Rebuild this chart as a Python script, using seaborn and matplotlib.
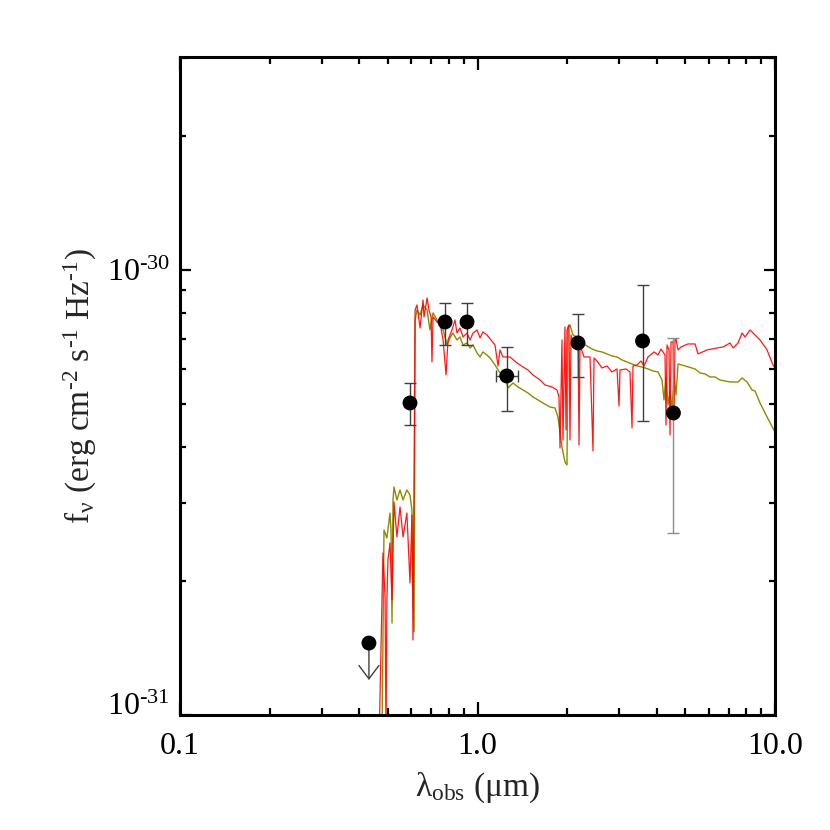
import numpy as np
import seaborn as sb
import matplotlib
matplotlib.use("Agg")
import matplotlib.pyplot as plt
from matplotlib.ticker import FixedLocator, FixedFormatter, LogLocator, NullFormatter

# ### data ###
# spectrum 1 (red), wavelength in micron, flux in 1e-31 erg/cm2/s/Hz
red_lam = [0.467, 0.481, 0.489, 0.4925, 0.496, 0.500, 0.508, 0.516, 0.524, 0.536,
           0.549, 0.562, 0.579, 0.593, 0.602, 0.607, 0.617, 0.626, 0.641, 0.656,
           0.661, 0.677, 0.687, 0.698, 0.703, 0.709, 0.731, 0.748, 0.766, 0.784,
           0.796, 0.821, 0.840, 0.853, 0.873, 0.894, 0.922, 0.944, 0.966, 0.996,
           1.020, 1.043, 1.076, 1.110, 1.145, 1.172, 1.190, 1.218, 1.286, 1.357,
           1.422, 1.478, 1.536, 1.622, 1.686, 1.780, 1.850, 1.879, 1.894, 1.923,
           1.938, 1.968, 1.984, 1.999, 2.030, 2.046, 2.062, 2.110, 2.177, 2.194,
           2.211, 2.280, 2.389, 2.445, 2.464, 2.522, 2.621, 2.725, 2.832, 2.944,
           2.990, 3.013, 3.157, 3.256, 3.307, 3.332, 3.437, 3.545, 3.629, 3.743,
           3.921, 4.044, 4.139, 4.269, 4.302, 4.336, 4.403, 4.438, 4.472, 4.542,
           4.577, 4.613, 4.648, 4.721, 4.832, 5.101, 5.385, 5.512, 5.910, 6.385,
           6.689, 7.061, 7.227, 7.513, 7.749, 7.931, 8.244, 8.437, 8.907, 9.403,
           9.846, 10.0]
red_flux = [0.879, 2.312, 1.842, 0.879, 1.813, 2.230, 2.435, 1.813, 3.011, 2.512,
            2.934, 2.512, 2.844, 1.980, 2.815, 1.474, 8.131, 8.344, 7.408, 8.562,
            7.842, 8.651, 8.131, 7.842, 6.213, 7.842, 7.641, 7.602, 6.962, 5.809,
            6.962, 7.332, 7.721, 7.219, 7.408, 7.071, 7.219, 6.962, 7.219, 7.332,
            7.035, 7.256, 7.145, 6.962, 6.784, 6.086, 6.611, 6.376, 6.376, 6.181,
            6.054, 5.961, 5.809, 5.660, 5.516, 5.459, 5.375, 5.184, 3.981, 6.962,
            4.149, 7.447, 4.370, 7.332, 7.524, 4.149, 7.145, 6.714, 6.962, 4.043,
            6.784, 6.376, 6.376, 3.920, 6.343, 6.245, 6.023, 6.086, 5.900, 5.992,
            4.948, 5.961, 5.992, 5.900, 4.415, 6.086, 6.117, 6.245, 6.086, 6.376,
            6.543, 6.442, 6.645, 6.442, 4.484, 6.784, 6.611, 4.258, 6.890, 6.890,
            4.602, 6.962, 6.998, 6.611, 6.714, 6.820, 6.820, 6.476, 6.611, 6.680,
            6.714, 6.855, 6.680, 6.855, 7.219, 7.071, 7.332, 7.219, 6.962, 6.611,
            6.117, 6.023]

# spectrum 2 (olive)
olive_lam = [0.4775, 0.485, 0.496, 0.508, 0.512, 0.516, 0.520, 0.524, 0.536, 0.549,
             0.562, 0.579, 0.593, 0.602, 0.612, 0.617, 0.626, 0.641, 0.656, 0.677,
             0.692, 0.709, 0.731, 0.748, 0.766, 0.790, 0.808, 0.827, 0.853, 0.873,
             0.894, 0.922, 0.944, 0.966, 0.996, 1.020, 1.043, 1.076, 1.102, 1.145,
             1.190, 1.237, 1.266, 1.316, 1.368, 1.422, 1.478, 1.536, 1.597, 1.660,
             1.752, 1.822, 1.864, 1.923, 1.968, 1.999, 2.015, 2.046, 2.094, 2.160,
             2.245, 2.334, 2.426, 2.522, 2.621, 2.725, 2.832, 2.944, 3.060, 3.181,
             3.307, 3.437, 3.573, 3.743, 3.890, 4.044, 4.171, 4.236, 4.302, 4.369,
             4.438, 4.507, 4.577, 4.648, 4.721, 4.984, 5.385, 5.598, 5.819, 6.048,
             6.287, 6.535, 7.061, 7.513, 7.749, 8.055, 8.372, 8.569, 8.907, 9.403,
             10.0]
olive_flux = [0.879, 2.605, 2.499, 2.844, 2.605, 1.610, 3.042, 3.254, 3.042, 3.204,
              3.042, 3.204, 3.122, 2.889, 1.537, 7.721, 8.131, 7.923, 8.344, 8.131,
              7.332, 8.006, 7.721, 7.524, 7.332, 6.784, 7.035, 7.219, 6.962, 7.071,
              6.784, 6.855, 6.680, 6.784, 6.509, 6.376, 6.543, 6.442, 6.343, 6.117,
              5.869, 5.809, 5.431, 5.573, 5.459, 5.375, 5.292, 5.184, 5.104, 5.025,
              4.922, 4.897, 4.674, 4.002, 3.703, 3.646, 7.447, 7.524, 7.145, 7.071,
              6.855, 6.749, 6.645, 6.577, 6.543, 6.476, 6.409, 6.376, 6.278, 6.213,
              6.149, 6.086, 6.054, 5.992, 5.930, 5.900, 5.660, 5.104, 5.749, 4.973,
              5.347, 4.846, 5.809, 5.238, 6.149, 6.086, 5.992, 5.869, 5.839, 5.749,
              5.749, 5.660, 5.602, 5.602, 5.719, 5.602, 5.375, 5.347, 5.025, 4.674,
              4.325]

# photometry, flux in 1e-31
phot_lam = [0.593, 0.778, 0.922, 1.254, 2.177, 3.587, 4.556]
phot_flux = [5.025, 7.641, 7.641, 5.779, 6.855, 6.926, 4.772]
phot_hi = [5.573, 8.431, 8.431, 6.714, 7.981, 9.253, 7.035]
phot_lo = [4.484, 6.784, 6.784, 4.821, 5.734, 4.578, 2.564]
phot_lam_lo = [None, None, None, 1.151, None, None, None]
phot_lam_hi = [None, None, None, 1.365, None, None, None]

# upper limit
ul_lam = [0.4316]
ul_flux = [1.451]

scale = 1e-31

x_ticks = [0.1, 1.0, 10.0]
x_ticklabels = ['0.1', '1.0', '10.0']
y_ticks = [1e-31, 1e-30]
y_ticklabels = [r'10$^{\mathrm{‐31}}$', r'10$^{\mathrm{‐30}}$']

# ### style ###
sb.set_theme(style="ticks")
plt.rcParams['font.family'] = ['Liberation Serif', 'DejaVu Serif']
plt.rcParams['mathtext.fontset'] = 'custom'
plt.rcParams['mathtext.rm'] = 'Liberation Serif'
plt.rcParams['mathtext.it'] = 'Liberation Serif:italic'
plt.rcParams['mathtext.bf'] = 'Liberation Serif:bold'

tick_labelsize = 23
label_fontsize = 24

fig = plt.figure(figsize=(8.3, 8.3), dpi=100)
ax = fig.add_axes([180 / 830, 1 - 715 / 830, 595 / 830, 658 / 830])

sb.lineplot(x=olive_lam, y=np.array(olive_flux) * scale, estimator=None, sort=False,
            color='#8c8c00', lw=1.0, ax=ax)
sb.lineplot(x=red_lam, y=np.array(red_flux) * scale, estimator=None, sort=False,
            color='#ff0000', lw=0.9, alpha=0.9, ax=ax)

pf = np.array(phot_flux) * scale
yerr = [pf - np.array(phot_lo) * scale, np.array(phot_hi) * scale - pf]
ax.errorbar(phot_lam[:-1], pf[:-1], yerr=[yerr[0][:-1], yerr[1][:-1]], fmt='none',
            ecolor='0.25', elinewidth=1.0, capsize=4, capthick=1.0, zorder=4)
ax.errorbar(phot_lam[-1:], pf[-1:], yerr=[yerr[0][-1:], yerr[1][-1:]], fmt='none',
            ecolor='0.55', elinewidth=1.0, capsize=4, capthick=1.0, zorder=4)
for lam, f, lo, hi in zip(phot_lam, pf, phot_lam_lo, phot_lam_hi):
    if lo is not None:
        ax.errorbar([lam], [f], xerr=[[lam - lo], [hi - lam]], fmt='none',
                    ecolor='0.25', elinewidth=1.0, capsize=4, capthick=1.0, zorder=4)

sb.scatterplot(x=phot_lam + ul_lam, y=list(pf) + [ul_flux[0] * scale], s=115,
               color='black', edgecolor='none', zorder=5, ax=ax)

for lam, f in zip(ul_lam, ul_flux):
    ax.annotate('', xy=(lam, f * scale * 10 ** -0.083), xytext=(lam, f * scale),
                arrowprops=dict(arrowstyle='->,head_length=0.8,head_width=0.6',
                                color='0.25', lw=1.0, shrinkA=0, shrinkB=0),
                zorder=4)

ax.set_xscale('log')
ax.set_yscale('log')
ax.set_xlim(0.1, 10.0)
ax.set_ylim(1e-31, 3.01e-30)

ax.xaxis.set_major_locator(FixedLocator(x_ticks))
ax.xaxis.set_major_formatter(FixedFormatter(x_ticklabels))
ax.xaxis.set_minor_locator(LogLocator(base=10, subs=np.arange(2, 10)))
ax.xaxis.set_minor_formatter(NullFormatter())
ax.yaxis.set_major_locator(FixedLocator(y_ticks))
ax.yaxis.set_major_formatter(FixedFormatter(y_ticklabels))
ax.yaxis.set_minor_locator(LogLocator(base=10, subs=np.arange(2, 10)))
ax.yaxis.set_minor_formatter(NullFormatter())

ax.tick_params(axis='both', which='both', direction='in', top=True, right=True,
               width=1.6, colors='black', labelsize=tick_labelsize)
ax.tick_params(axis='x', which='major', length=9.5, pad=12)
ax.tick_params(axis='x', which='minor', length=4.8)
ax.tick_params(axis='y', which='major', length=8, pad=7)
ax.tick_params(axis='y', which='minor', length=4)

for side in ['left', 'right', 'top', 'bottom']:
    ax.spines[side].set_linewidth(2.2)
    ax.spines[side].set_color('black')

fig.canvas.draw()
ylabs = ax.get_yticklabels()
ylabs[0].set_va('baseline')

ax.set_xlabel(r'λ$_{\rm obs}$ (μm)', fontsize=label_fontsize, labelpad=7)
ax.set_ylabel(r'f$_{\mathrm{ν}}$ (erg cm$^{\mathrm{‐2}}$ s$^{\mathrm{‐1}}$ Hz$^{\mathrm{‐1}}$)',
              fontsize=label_fontsize, labelpad=6)

fig.savefig('out.png', dpi=100, facecolor='white')
plt.close(fig)
